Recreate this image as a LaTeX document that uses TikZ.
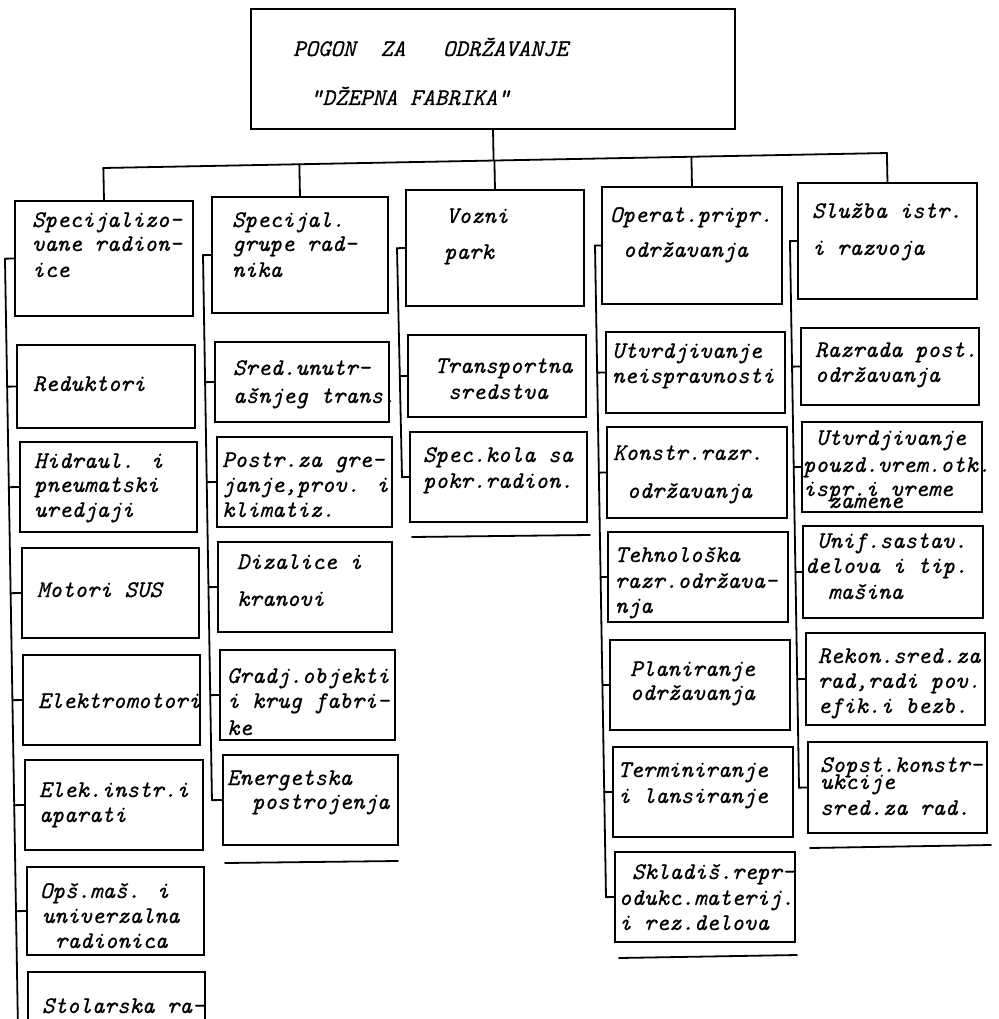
\documentclass[tikz,border=0pt]{standalone}
\usepackage{fontspec}
\newfontfamily\twfont{lmmono10-italic.otf}[FakeBold=0.5]
\usetikzlibrary{calc,fit}
\newcommand\mytw{\twfont\fontsize{23.8pt}{25pt}\selectfont}
\tikzset{
  boxst/.style={draw, line width=1.8pt, inner sep=0pt, outer sep=0pt},
  txt/.style={anchor=base west, inner sep=0pt, outer sep=0pt, font=\mytw},
  ln/.style={line width=1.8pt, line cap=round},
}
\newcommand\bx[5]{\node[boxst, fit={(#2,#3) (#4,#5)}] (#1) {};}
\newcommand\tline[4]{\node[txt] (#1) at (#2,#3) {#4};}
\begin{document}
\begin{tikzpicture}[x=1pt, y=-1pt]
\useasboundingbox (0,0) rectangle (998,1019);
\clip (0,0) rectangle (998,1019);
\fill[white] (0,0) rectangle (998,1019);

% ---------- top box
\bx{T}{251}{9}{735}{129}
\tline{t1}{293}{56}{POGON~~ZA~~~ODRŽAVANJE}
\tline{t2}{310}{105}{"DŽEPNA FABRIKA"}

% ---------- level 1
\bx{L1}{15}{201}{193}{316}
\tline{l1a}{32}{227}{Specijalizo-}
\tline{l1b}{32}{251}{vane radion-}
\tline{l1c}{32}{277}{ice}
\bx{L2}{212}{197}{388}{313}
\tline{l2a}{232}{227}{Specijal.}
\tline{l2b}{232}{251}{grupe rad-}
\tline{l2c}{232}{277}{nika}
\bx{L3}{406}{190}{584}{306}
\tline{l3a}{446}{223}{Vozni}
\tline{l3b}{444}{259}{park}
\bx{L4}{602}{187}{782}{304}
\tline{l4a}{610}{222}{Operat.pripr.}
\tline{l4b}{623}{257}{održavanja}
\bx{L5}{798}{183}{977}{299}
\tline{l5a}{812}{218}{Služba istr.}
\tline{l5b}{812}{255}{i razvoja}

% ---------- bus
\coordinate (BL) at (103,168);
\coordinate (BR) at (887,153);
\draw[ln] ($(BL)!(L1.north)!(BR)$) -- ($(BL)!(L5.north)!(BR)$);
\draw[ln] (T.south) -- ($(BL)!(T.south)!(BR)$);
\foreach \n in {L1,L2,L3,L4,L5}
  \draw[ln] (\n.north) -- ($(BL)!(\n.north)!(BR)$);

% ---------- column 1
\bx{C11}{17}{345}{195}{428}
\tline{c11a}{33}{391}{Reduktori}
\bx{C12}{20}{442}{197}{532}
\tline{c12a}{34}{468}{Hidraul. i}
\tline{c12b}{34}{492}{pneumatski}
\tline{c12c}{34}{517}{uredjaji}
\bx{C13}{22}{548}{199}{638}
\tline{c13a}{37}{597}{Motori SUS}
\bx{C14}{23}{655}{200}{745}
\tline{c14a}{38}{708}{Elektromotori}
\bx{C15}{25}{760}{203}{850}
\tline{c15a}{39}{797}{Elek.instr.i}
\tline{c15b}{39}{822}{aparati}
\bx{C16}{27}{867}{204}{955}
\tline{c16a}{40}{898}{Opš.maš. i}
\tline{c16b}{42}{923}{univerzalna}
\tline{c16c}{55}{948}{radionica}
\bx{C17}{28}{972}{205}{1045}
\tline{c17a}{42}{1013}{Stolarska ra-}

\coordinate (S1a) at (5,260);
\coordinate (S1b) at (18,1030);
\draw[ln] (L1.west) -- ($(S1a)!(L1.west)!(S1b)$) -- (S1b);
\foreach \n in {C11,C12,C13,C14,C15,C16}
  \draw[ln] ($(S1a)!(\n.west)!(S1b)$) -- (\n.west);

% ---------- column 2
\bx{C21}{215}{342}{389}{422}
\tline{c21a}{233}{375}{Sred.unutr-}
\tline{c21b}{233}{403}{ašnjeg trans.}
\bx{C22}{217}{437}{392}{527}
\tline{c22a}{222}{467}{Postr.za gre-}
\tline{c22b}{222}{492}{janje,prov. i}
\tline{c22c}{222}{517}{klimatiz.}
\bx{C23}{218}{542}{392}{632}
\tline{c23a}{237}{569}{Dizalice i}
\tline{c23b}{237}{606}{kranovi}
\bx{C24}{220}{650}{395}{740}
\tline{c24a}{227}{683}{Gradj.objekti}
\tline{c24b}{227}{708}{i krug fabri-}
\tline{c24c}{227}{735}{ke}
\bx{C25}{223}{755}{398}{845}
\tline{c25a}{227}{785}{Energetska}
\tline{c25b}{252}{809}{postrojenja}

\coordinate (S2a) at (203,255);
\coordinate (S2b) at (212,803);
\draw[ln] (L2.west) -- ($(S2a)!(L2.west)!(S2b)$) -- ($(S2a)!(C25.west)!(S2b)$);
\foreach \n in {C21,C22,C23,C24,C25}
  \draw[ln] ($(S2a)!(\n.west)!(S2b)$) -- (\n.west);
\coordinate (E2a) at (225,863);
\coordinate (E2b) at (398,861);
\draw[ln] (E2a) -- (E2b);

% ---------- column 3
\bx{C31}{408}{335}{586}{417}
\tline{c31a}{435}{373}{Transportna}
\tline{c31b}{448}{399}{sredstva}
\bx{C32}{410}{432}{587}{522}
\tline{c32a}{423}{462}{Spec.kola sa}
\tline{c32b}{423}{488}{pokr.radion.}

\coordinate (S3a) at (397,248);
\coordinate (S3b) at (402,477);
\draw[ln] (L3.west) -- ($(S3a)!(L3.west)!(S3b)$) -- ($(S3a)!(C32.west)!(S3b)$);
\foreach \n in {C31,C32}
  \draw[ln] ($(S3a)!(\n.west)!(S3b)$) -- (\n.west);
\coordinate (E3a) at (412,537);
\coordinate (E3b) at (590,535);
\draw[ln] (E3a) -- (E3b);

% ---------- column 4
\bx{C41}{606}{332}{785}{413}
\tline{c41a}{612}{358}{Utvrdjivanje}
\tline{c41b}{612}{383}{neispravnosti}
\bx{C42}{607}{427}{787}{518}
\tline{c42a}{613}{460}{Konstr.razr.}
\tline{c42b}{627}{498}{održavanja}
\bx{C43}{608}{532}{788}{622}
\tline{c43a}{615}{562}{Tehnološka}
\tline{c43b}{615}{588}{razr.održava-}
\tline{c43c}{615}{613}{nja}
\bx{C44}{610}{640}{790}{730}
\tline{c44a}{630}{676}{Planiranje}
\tline{c44b}{630}{700}{održavanja}
\bx{C45}{613}{747}{793}{837}
\tline{c45a}{618}{777}{Terminiranje}
\tline{c45b}{618}{803}{i lansiranje}
\bx{C46}{615}{852}{795}{942}
\tline{c46a}{632}{879}{Skladiš.repr-}
\tline{c46b}{619}{905}{odukc.materij.}
\tline{c46c}{619}{930}{i rez.delova}

\coordinate (S4a) at (595,245);
\coordinate (S4b) at (606,897);
\draw[ln] (L4.west) -- ($(S4a)!(L4.west)!(S4b)$) -- ($(S4a)!(C46.west)!(S4b)$);
\foreach \n in {C41,C42,C43,C44,C45,C46}
  \draw[ln] ($(S4a)!(\n.west)!(S4b)$) -- (\n.west);
\coordinate (E4a) at (619,958);
\coordinate (E4b) at (797,955);
\draw[ln] (E4a) -- (E4b);

% ---------- column 5
\bx{C51}{801}{328}{979}{405}
\tline{c51a}{815}{357}{Razrada post.}
\tline{c51b}{815}{382}{održavanja}
\bx{C52}{802}{422}{982}{512}
\tline{c52a}{816}{445}{Utvrdjivanje}
\tline{c52b}{803}{472}{pouzd.vrem.otk.}
\tline{c52c}{803}{496}{ispr.i vreme}
\tline{c52d}{828}{508}{zamene}
\bx{C53}{803}{526}{983}{618}
\tline{c53a}{817}{548}{Unif.sastav.}
\tline{c53b}{805}{573}{delova i tip.}
\tline{c53c}{828}{599}{mašina}
\bx{C54}{806}{633}{985}{725}
\tline{c54a}{818}{663}{Rekon.sred.za}
\tline{c54b}{818}{688}{rad,radi pov.}
\tline{c54c}{818}{713}{efik.i bezb.}
\bx{C55}{808}{742}{987}{833}
\tline{c55a}{820}{772}{Sopst.konstr-}
\tline{c55b}{820}{789}{ukcije}
\tline{c55c}{820}{815}{sred.za rad.}

\coordinate (S5a) at (790,243);
\coordinate (S5b) at (799,788);
\draw[ln] (L5.west) -- ($(S5a)!(L5.west)!(S5b)$) -- ($(S5a)!(C55.west)!(S5b)$);
\foreach \n in {C51,C52,C53,C54,C55}
  \draw[ln] ($(S5a)!(\n.west)!(S5b)$) -- (\n.west);
\coordinate (E5a) at (810,848);
\coordinate (E5b) at (991,845);
\draw[ln] (E5a) -- (E5b);
\end{tikzpicture}
\end{document}
